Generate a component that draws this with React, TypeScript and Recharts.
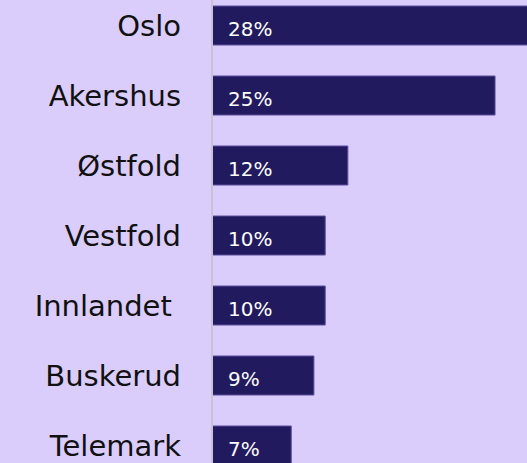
import { BarChart, Bar, XAxis, YAxis, LabelList } from 'recharts';

const regions = ['Oslo', 'Akershus', 'Østfold', 'Vestfold', 'Innlandet ', 'Buskerud', 'Telemark'];
const shares = [28, 25, 12, 10, 10, 9, 7];

const chartData = regions.map((name, i) => ({ name, share: shares[i] }));

const FONT = '"DejaVu Sans", sans-serif';

const RegionTick = (props: any) => {
  const { y, payload } = props;
  return (
    <text
      x={181}
      y={y}
      dy={11}
      textAnchor="end"
      fill="#111"
      fontSize={29}
      fontFamily={FONT}
      style={{ whiteSpace: 'pre' }}
    >
      {payload.value}
    </text>
  );
};

const ShareLabel = (props: any) => {
  const { x, y, height, value } = props;
  return (
    <text x={x + 16} y={y + height / 2} dy={10} fill="#ffffff" fontSize={20} fontFamily={FONT}>
      {`${value}%`}
    </text>
  );
};

const App = () => {
  return (
    <div style={{ position: 'fixed', top: 0, left: 0, width: 527, height: 463, overflow: 'hidden', background: '#dacdfc' }}>
      <div style={{ position: 'absolute', top: -10, left: 0 }}>
        <BarChart
          width={529}
          height={490}
          data={chartData}
          layout="vertical"
          margin={{ top: 0, right: 0, bottom: 0, left: 0 }}
          barSize={39}
        >
          <XAxis type="number" domain={[0, 28]} hide />
          <YAxis
            type="category"
            dataKey="name"
            width={212}
            tickLine={false}
            axisLine={{ stroke: '#c9c2d6', strokeWidth: 2 }}
            tick={<RegionTick />}
            interval={0}
          />
          <Bar dataKey="share" fill="#221a5e" stroke="#5b4f9c" strokeWidth={1} isAnimationActive={false}>
            <LabelList dataKey="share" content={<ShareLabel />} />
          </Bar>
        </BarChart>
      </div>
    </div>
  );
};

export default App;
